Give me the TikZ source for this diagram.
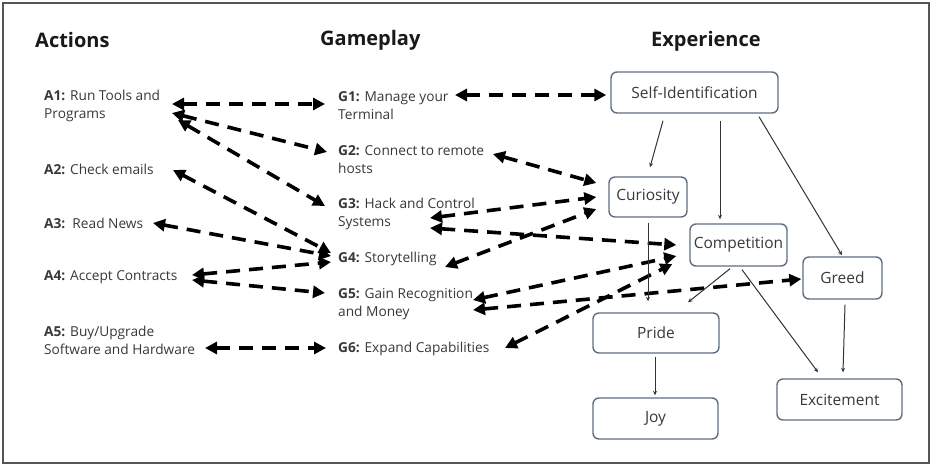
\documentclass[tikz,border=0pt]{standalone}
\usepackage{fontspec}
\setmainfont{Open Sans}
\usetikzlibrary{arrows.meta}
\definecolor{txt}{HTML}{383838}
\definecolor{boxline}{HTML}{5E6E7E}
\definecolor{framecol}{HTML}{555555}

\begin{document}
\begin{tikzpicture}[x=1pt,y=-1pt,
  lbl/.style={anchor=west, inner sep=0pt, align=left, text=txt,
    font=\fontsize{13.7}{18}\selectfont},
  head/.style={anchor=west, inner sep=0pt, text=black!90,
    font=\fontsize{20}{24}\selectfont\bfseries},
  state/.style={draw=boxline, line width=1.4pt, rounded corners=6pt, text=txt,
    inner sep=0pt, font=\fontsize{15.5}{18}\selectfont},
  link/.style={line width=3.6pt, dash pattern=on 14pt off 9pt,
    {Triangle[length=12pt,width=12pt]}-{Triangle[length=12pt,width=12pt]}},
  flow/.style={draw=black!80, line width=1pt, -{Stealth[length=4.5pt,width=4pt]}},
]
% canvas and frame
\useasboundingbox (0,0) rectangle (932,466);
\draw[framecol, line width=1.5pt] (3,3) rectangle (929,463);

% column headings
\node[head] (hA) at (35,40) {Actions};
\node[head] (hG) at (320,40) {Gameplay};
\node[head] (hE) at (651,41) {Experience};

% actions
\node[lbl] (a1) at (44,106) {\textbf{A1:} Run Tools and\\Programs};
\node[lbl] (a2) at (44,169) {\textbf{A2:} Check emails};
\node[lbl] (a3) at (44,223) {\textbf{A3:}\ \ Read News};
\node[lbl] (a4) at (44,277) {\textbf{A4:} Accept Contracts};
\node[lbl] (a5) at (44,340) {\textbf{A5:} Buy/Upgrade\\Software and Hardware};

% gameplay
\node[lbl] (g1) at (338,106) {\textbf{G1:} Manage your\\Terminal};
\node[lbl] (g2) at (338,160) {\textbf{G2:} Connect to remote\\hosts};
\node[lbl] (g3) at (338,214) {\textbf{G3:} Hack and Control\\Systems};
\node[lbl] (g4) at (338,259) {\textbf{G4:} Storytelling};
\node[lbl] (g5) at (338,304) {\textbf{G5:} Gain Recognition\\and Money};
\node[lbl] (g6) at (338,349) {\textbf{G6:} Expand Capabilities};

% experience states
\node[state, minimum width=167pt, minimum height=41pt] (si) at (694.5,92.5) {Self-Identification};
\node[state, minimum width=78pt, minimum height=40pt] (cur) at (648,197) {Curiosity};
\node[state, minimum width=97pt, minimum height=42pt] (comp) at (738.5,245) {Competition};
\node[state, minimum width=79pt, minimum height=42pt] (greed) at (842.5,278) {Greed};
\node[state, minimum width=126pt, minimum height=40pt] (pride) at (656,333) {Pride};
\node[state, minimum width=125pt, minimum height=41pt] (joy) at (655.5,418.5) {Joy};
\node[state, minimum width=125pt, minimum height=41pt] (exc) at (839.5,399.5) {Excitement};

% actions <-> gameplay
\draw[link] ([shift={(128,-2)}]a1.west) -- ([shift={(-13,-2)}]g1.west);
\draw[link] ([shift={(128,7)}]a1.west) -- ([shift={(-11,-8)}]g2.west);
\draw[link] ([shift={(134,14)}]a1.west) -- ([shift={(-13,-8)}]g3.west);
\draw[link] ([shift={(129,1)}]a2.west) -- ([shift={(-7,-6)}]g4.west);
\draw[link] ([shift={(109,0)}]a3.west) -- ([shift={(-7,-3)}]g4.west);
\draw[link] ([shift={(148,-2)}]a4.west) -- ([shift={(-7,3)}]g4.west);
\draw[link] ([shift={(148,3)}]a4.west) -- ([shift={(-13,-11)}]g5.west);
\draw[link] ([shift={(161,8)}]a5.west) -- ([shift={(-12,-1)}]g6.west);

% gameplay <-> experience
\draw[link] ([shift={(117,-11)}]g1.west) -- ([shift={(-4,2.5)}]si.west);
\draw[link] ([shift={(155,-6)}]g2.west) -- ([shift={(-12,-14)}]cur.west);
\draw[link] ([shift={(92,4)}]g3.west) -- ([shift={(-12,0)}]cur.west);
\draw[link] ([shift={(92,14)}]g3.west) -- ([shift={(-13,0)}]comp.west);
\draw[link] ([shift={(107,8)}]g4.west) -- ([shift={(-12,12)}]cur.west);
\draw[link] ([shift={(135,-4)}]g5.west) -- ([shift={(-13,11)}]comp.west);
\draw[link] ([shift={(135,6)}]g5.west) -- ([shift={(-1,1)}]greed.west);
\draw[link] ([shift={(167,-1)}]g6.west) -- ([shift={(-17,19)}]comp.west);

% relations between experiences
\draw[flow] ([shift={(-31.5,7)}]si.south) -- ([shift={(2,-9)}]cur.north);
\draw[flow] ([shift={(25.5,7)}]si.south) -- ([shift={(-18.5,-4)}]comp.north);
\draw[flow] ([shift={(64.5,3)}]si.south) -- ([shift={(-0.5,-1)}]greed.north);
\draw[flow] ([shift={(0,5)}]cur.south) -- ([shift={(-8,-11)}]pride.north);
\draw[flow] ([shift={(-8.5,2)}]comp.south) -- ([shift={(32,-10)}]pride.north);
\draw[flow] ([shift={(3.5,3)}]comp.south) -- ([shift={(-21.5,-6)}]exc.north);
\draw[flow] ([shift={(2.5,5)}]greed.south) -- ([shift={(3.5,-6)}]exc.north);
\draw[flow] ([shift={(-1,3)}]pride.south) -- ([shift={(-0.5,-2)}]joy.north);
\end{tikzpicture}
\end{document}
